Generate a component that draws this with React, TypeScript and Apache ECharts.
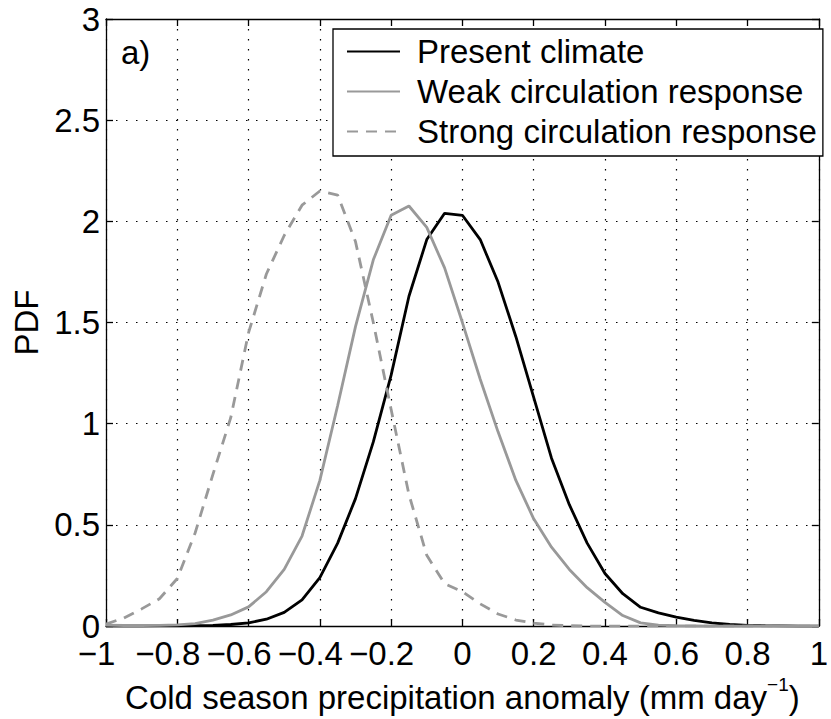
import React, { useEffect, useRef } from 'react';
import * as echarts from 'echarts';

const FONT = '"Liberation Sans", Arial, Helvetica, sans-serif';
const FS = 33;

// Precipitation anomaly grid (mm/day)
const xGrid = [
  -1, -0.95, -0.9, -0.85, -0.8, -0.75, -0.7, -0.65, -0.6, -0.55,
  -0.5, -0.45, -0.4, -0.35, -0.3, -0.25, -0.2, -0.15, -0.1, -0.05,
  0, 0.05, 0.1, 0.15, 0.2, 0.25, 0.3, 0.35, 0.4, 0.45,
  0.5, 0.55, 0.6, 0.65, 0.7, 0.75, 0.8, 0.85, 0.9, 0.95, 1,
];

const presentClimate = [
  0, 0, 0, 0.001, 0.001, 0.002, 0.004, 0.008, 0.016, 0.034,
  0.068, 0.13, 0.24, 0.41, 0.63, 0.91, 1.24, 1.63, 1.91, 2.04,
  2.03, 1.91, 1.7, 1.43, 1.13, 0.83, 0.6, 0.41, 0.26, 0.16,
  0.093, 0.065, 0.044, 0.028, 0.016, 0.008, 0.004, 0.002, 0.001, 0, 0,
];

const weakResponse = [
  0.005, 0.003, 0.003, 0.004, 0.006, 0.012, 0.03, 0.055, 0.095, 0.17,
  0.28, 0.445, 0.72, 1.09, 1.48, 1.81, 2.03, 2.076, 1.97, 1.77,
  1.5, 1.22, 0.96, 0.72, 0.53, 0.39, 0.28, 0.19, 0.117, 0.052,
  0.016, 0.005, 0.002, 0.001, 0, 0, 0, 0, 0, 0, 0,
];

const strongResponse = [
  0.01, 0.04, 0.085, 0.135, 0.235, 0.46, 0.75, 1.03, 1.45, 1.74,
  1.93, 2.08, 2.15, 2.13, 1.9, 1.5, 1.07, 0.65, 0.35, 0.21,
  0.17, 0.11, 0.06, 0.03, 0.015, 0.005, 0.002, 0, 0, 0,
  0, 0, 0, 0, 0, 0, 0, 0, 0, 0, 0,
];

const seriesNames = ['Present climate', 'Weak circulation response', 'Strong circulation response'];

const xTickValues = [-1, -0.8, -0.6, -0.4, -0.2, 0, 0.2, 0.4, 0.6, 0.8, 1];
const xTickLabels = ['\u22121', '\u22120.8', '\u22120.6', '\u22120.4', '\u22120.2', '0', '0.2', '0.4', '0.6', '0.8', '1'];
const yTickValues = [0, 0.5, 1, 1.5, 2, 2.5, 3];
const yTickLabels = ['0', '0.5', '1', '1.5', '2', '2.5', '3'];

const pair = (ys: number[]) => xGrid.map((x, i) => [x, ys[i]]);

export default function App() {
  const ref = useRef<HTMLDivElement>(null);

  useEffect(() => {
    if (!ref.current) return;
    const chart = echarts.init(ref.current, null, { renderer: 'svg' });

    const xLabelFmt = (v: number) => {
      const i = xTickValues.findIndex((t) => Math.abs(t - v) < 1e-6);
      const s = i >= 0 ? xTickLabels[i] : String(v);
      return s.startsWith('\u2212') ? `{n|${s}}` : `{p|${s}}`;
    };
    const yLabelFmt = (v: number) => {
      const i = yTickValues.findIndex((t) => Math.abs(t - v) < 1e-6);
      return i >= 0 ? yTickLabels[i] : String(v);
    };

    const axisLine = { show: true, onZero: false, lineStyle: { color: '#000', width: 1.3 } };
    const tick = { show: true, inside: true, length: 7, lineStyle: { color: '#000', width: 1.3 } };
    const split = { show: true, lineStyle: { color: '#000', width: 1.2, type: [1.5, 8.5] as any } };

    chart.setOption({
      animation: false,
      backgroundColor: '#fff',
      textStyle: { fontFamily: FONT },
      grid: { left: 106, right: 3, top: 19, bottom: 85, containLabel: false },
      xAxis: [
        {
          type: 'value', min: -1, max: 1, interval: 0.2,
          axisLine, axisTick: tick, splitLine: split,
          axisLabel: {
            margin: 11, formatter: xLabelFmt,
            rich: {
              p: { fontSize: FS, fontFamily: FONT, color: '#000', lineHeight: 32 },
              n: { fontSize: FS, fontFamily: FONT, color: '#000', lineHeight: 32, padding: [0, 19, 0, 0] },
            },
          },
          name: '{a|Cold season precipitation anomaly (mm day}{s|\u22121}{a|)}',
          nameLocation: 'middle', nameGap: 45,
          nameTextStyle: {
            rich: {
              a: { fontSize: FS, fontFamily: FONT, color: '#000', lineHeight: 46 },
              s: { fontSize: 19, fontFamily: FONT, color: '#000', verticalAlign: 'top', lineHeight: 20 },
            },
          },
        },
        {
          type: 'value', min: -1, max: 1, interval: 0.2, position: 'top',
          axisLine, axisTick: tick, splitLine: { show: false }, axisLabel: { show: false },
        },
      ],
      yAxis: [
        {
          type: 'value', min: 0, max: 3, interval: 0.5,
          axisLine, axisTick: tick, splitLine: split,
          axisLabel: { margin: 6, fontSize: FS, fontFamily: FONT, color: '#000', formatter: yLabelFmt },
          name: 'PDF', nameLocation: 'middle', nameGap: 62,
          nameTextStyle: { fontSize: FS, fontFamily: FONT, color: '#000' },
        },
        {
          type: 'value', min: 0, max: 3, interval: 0.5, position: 'right',
          axisLine, axisTick: tick, splitLine: { show: false }, axisLabel: { show: false },
        },
      ],
      legend: {
        left: 333, top: 29, orient: 'vertical', align: 'left',
        padding: [6, 6, 8, 13], itemGap: 7, itemWidth: 53, itemHeight: 14,
        backgroundColor: '#fff', borderColor: '#000', borderWidth: 1.3, borderRadius: 0,
        itemStyle: { opacity: 0 },
        textStyle: { fontSize: FS, fontFamily: FONT, color: '#000', lineHeight: 32, padding: [0, 0, 0, 12] },
        data: seriesNames,
      },
      graphic: [
        {
          type: 'text', left: 121, top: 36,
          style: { text: 'a)', fontSize: FS, fontFamily: FONT, fill: '#000' },
        },
      ],
      series: [
        {
          name: seriesNames[0], type: 'line', data: pair(presentClimate), symbol: 'none',
          lineStyle: { color: '#000', width: 2.8 }, itemStyle: { color: '#000' },
        },
        {
          name: seriesNames[1], type: 'line', data: pair(weakResponse), symbol: 'none',
          lineStyle: { color: '#999', width: 2.8 }, itemStyle: { color: '#999' },
        },
        {
          name: seriesNames[2], type: 'line', data: pair(strongResponse), symbol: 'none',
          lineStyle: { color: '#999', width: 2.8, type: [11, 8] }, itemStyle: { color: '#999' },
        },
      ],
    });

    return () => chart.dispose();
  }, []);

  return <div ref={ref} style={{ position: 'absolute', left: 0, top: 0, width: 831, height: 719 }} />;
}
